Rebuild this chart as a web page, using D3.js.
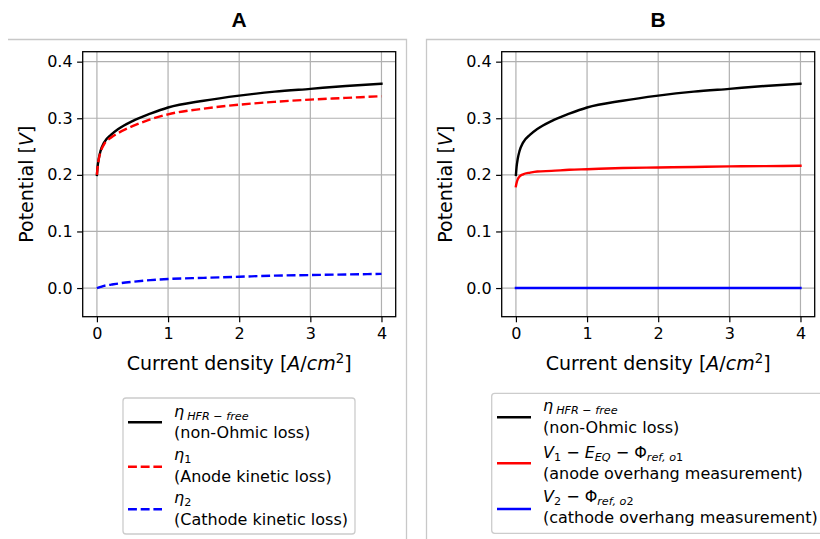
<!DOCTYPE html>
<html>
<head>
<meta charset="utf-8">
<script src="https://cdn.jsdelivr.net/npm/d3@7/dist/d3.min.js"></script>
<style>
  html, body { margin: 0; padding: 0; background: #fff; }
  svg { display: block; }
  text { font-family: "DejaVu Sans", sans-serif; fill: #000; }
</style>
</head>
<body>
<svg id="chart" width="820" height="539"></svg>
<script>
// Current density samples [A/cm^2]
const currentDensity = [0, 0.01, 0.025, 0.05, 0.1, 0.2, 0.3, 0.5, 0.75, 1, 1.5, 2, 2.5, 3, 3.5, 4];

// Potentials [V]
const etaHfrFree      = [0.200, 0.215, 0.228, 0.242, 0.257, 0.271, 0.281, 0.295, 0.308, 0.319, 0.331, 0.340, 0.347, 0.352, 0.357, 0.361];
const eta1            = [0.200, 0.214, 0.227, 0.240, 0.254, 0.266, 0.274, 0.286, 0.298, 0.307, 0.317, 0.324, 0.329, 0.333, 0.336, 0.339];
const eta2            = [0.000, 0.0005, 0.001, 0.002, 0.004, 0.006, 0.008, 0.011, 0.014, 0.016, 0.018, 0.020, 0.022, 0.023, 0.024, 0.025];
const anodeOverhang   = [0.180, 0.186, 0.192, 0.197, 0.201, 0.204, 0.206, 0.207, 0.209, 0.210, 0.212, 0.213, 0.214, 0.215, 0.2155, 0.216];
const cathodeOverhang = [0, 0, 0, 0, 0, 0, 0, 0, 0, 0, 0, 0, 0, 0, 0, 0];

const xTicks = [0, 1, 2, 3, 4];
const yTicks = [0.0, 0.1, 0.2, 0.3, 0.4];
const xDomain = [-0.2, 4.2];
const yDomain = [-0.0506, 0.4176];

const svg = d3.select("#chart");

// Panel frames (notebook output boxes)
const boxStroke = "#c8c8c8";
svg.append("path").attr("d", "M8,39.5 H406.5 V539").attr("fill", "none").attr("stroke", boxStroke).attr("stroke-width", 1.3);
svg.append("path").attr("d", "M820,39.5 H426.5 V539").attr("fill", "none").attr("stroke", boxStroke).attr("stroke-width", 1.3);

// Rich text helper: parts = [{s, it, sub}]
function richText(g, x, y, parts, size) {
  const t = g.append("text").attr("x", x).attr("y", y).style("font-size", size + "px");
  let shifted = false;
  parts.forEach(p => {
    const ts = t.append("tspan").text(p.s);
    if (p.it) ts.style("font-style", "italic");
    if (p.sub && !shifted) { ts.attr("dy", 3); shifted = true; }
    if (!p.sub && shifted) { ts.attr("dy", -3); shifted = false; }
    if (p.sub) ts.style("font-size", (size * 0.7) + "px");
    if (p.gap) ts.attr("dx", p.gap);
  });
  return t;
}

const panels = [
  {
    title: "A", dx: 0,
    series: [
      { y: etaHfrFree, color: "#000000", dash: null },
      { y: eta1, color: "#ff0000", dash: "8.9,3.8" },
      { y: eta2, color: "#0000ff", dash: "8.9,3.8" }
    ],
    legend: {
      box: [123, 398, 232, 136], hx: [128, 162], tx: 174,
      entries: [
        { color: "#000000", dash: null, hy: 422.3, lines: [
          { y: 417, parts: [{ s: "η", it: true }, { s: "HFR − free", it: true, sub: true, gap: 3 }] },
          { y: 438, parts: [{ s: "(non-Ohmic loss)" }] } ] },
        { color: "#ff0000", dash: "8.9,3.8", hy: 466.7, lines: [
          { y: 460, parts: [{ s: "η", it: true }, { s: "1", sub: true }] },
          { y: 482, parts: [{ s: "(Anode kinetic loss)" }] } ] },
        { color: "#0000ff", dash: "8.9,3.8", hy: 509.3, lines: [
          { y: 503, parts: [{ s: "η", it: true }, { s: "2", sub: true }] },
          { y: 524.5, parts: [{ s: "(Cathode kinetic loss)" }] } ] }
      ]
    }
  },
  {
    title: "B", dx: 419,
    series: [
      { y: etaHfrFree, color: "#000000", dash: null },
      { y: anodeOverhang, color: "#ff0000", dash: null },
      { y: cathodeOverhang, color: "#0000ff", dash: null }
    ],
    legend: {
      box: [491.7, 393.3, 340, 140], hx: [497, 531], tx: 543,
      entries: [
        { color: "#000000", dash: null, hy: 417.3, lines: [
          { y: 411, parts: [{ s: "η", it: true }, { s: "HFR − free", it: true, sub: true, gap: 3 }] },
          { y: 432.5, parts: [{ s: "(non-Ohmic loss)" }] } ] },
        { color: "#ff0000", dash: null, hy: 463.3, lines: [
          { y: 458, parts: [{ s: "V", it: true }, { s: "1", sub: true }, { s: " − " }, { s: "E", it: true },
                             { s: "EQ", it: true, sub: true }, { s: " − " }, { s: "Φ" }, { s: "ref, o", it: true, sub: true }, { s: "1", sub: true }] },
          { y: 479, parts: [{ s: "(anode overhang measurement)" }] } ] },
        { color: "#0000ff", dash: null, hy: 509, lines: [
          { y: 502, parts: [{ s: "V", it: true }, { s: "2", sub: true }, { s: " − " }, { s: "Φ" }, { s: "ref, o", it: true, sub: true }, { s: "2", sub: true }] },
          { y: 523, parts: [{ s: "(cathode overhang measurement)" }] } ] }
      ]
    }
  }
];

const frame = { left: 82.7, right: 395.7, top: 51.7, bottom: 316.7 };

panels.forEach(p => {
  const g = svg.append("g").attr("transform", `translate(${p.dx},0)`);
  const x = d3.scaleLinear().domain(xDomain).range([frame.left, frame.right]);
  const y = d3.scaleLinear().domain(yDomain).range([frame.bottom, frame.top]);

  // Title
  g.append("text").attr("x", 239).attr("y", 26.7).attr("text-anchor", "middle")
    .style("font-family", "'Liberation Sans', Arial, sans-serif").style("font-weight", "bold").style("font-size", "21px")
    .text(p.title);

  // Grid
  g.append("g").selectAll("line").data(xTicks).join("line")
    .attr("x1", d => x(d)).attr("x2", d => x(d)).attr("y1", frame.top).attr("y2", frame.bottom)
    .attr("stroke", "#b0b0b0").attr("stroke-width", 1.2);
  g.append("g").selectAll("line").data(yTicks).join("line")
    .attr("y1", d => y(d)).attr("y2", d => y(d)).attr("x1", frame.left).attr("x2", frame.right)
    .attr("stroke", "#b0b0b0").attr("stroke-width", 1.2);

  // Axes
  const xAxis = d3.axisBottom(x).tickValues(xTicks).tickFormat(d3.format("d")).tickSize(5.6).tickPadding(5.5);
  const yAxis = d3.axisLeft(y).tickValues(yTicks).tickFormat(d3.format(".1f")).tickSize(5.6).tickPadding(4.5);
  const gx = g.append("g").attr("transform", `translate(0,${frame.bottom})`).call(xAxis);
  const gy = g.append("g").attr("transform", `translate(${frame.left},0)`).call(yAxis);
  [gx, gy].forEach(a => {
    a.select(".domain").remove();
    a.selectAll(".tick line").attr("stroke", "#000").attr("stroke-width", 1.2);
    a.selectAll(".tick text").style("font-size", "16px").style("font-family", "'DejaVu Sans', sans-serif").attr("fill", "#000");
  });

  // Curves
  const line = d3.line().x(d => x(d[0])).y(d => y(d[1])).curve(d3.curveMonotoneX);
  p.series.forEach(s => {
    const pts = currentDensity.map((c, i) => [c, s.y[i]]);
    g.append("path").datum(pts).attr("d", line).attr("fill", "none")
      .attr("stroke", s.color).attr("stroke-width", 2.4)
      .attr("stroke-dasharray", s.dash).attr("stroke-linecap", s.dash ? "butt" : "square");
  });

  // Frame
  g.append("rect").attr("x", frame.left).attr("y", frame.top)
    .attr("width", frame.right - frame.left).attr("height", frame.bottom - frame.top)
    .attr("fill", "none").attr("stroke", "#000").attr("stroke-width", 1.3);

  // Axis labels
  const xl = g.append("text").attr("x", (frame.left + frame.right) / 2).attr("y", 370)
    .attr("text-anchor", "middle").style("font-size", "19px");
  xl.append("tspan").text("Current density [");
  xl.append("tspan").text("A").style("font-style", "italic");
  xl.append("tspan").text("/");
  xl.append("tspan").text("cm").style("font-style", "italic");
  xl.append("tspan").text("2").attr("dy", -7).style("font-size", "13.3px");
  xl.append("tspan").text("]").attr("dy", 7);

  const yl = g.append("text").attr("transform", `translate(33,${(frame.top + frame.bottom) / 2}) rotate(-90)`)
    .attr("text-anchor", "middle").style("font-size", "19px");
  yl.append("tspan").text("Potential [");
  yl.append("tspan").text("V").style("font-style", "italic");
  yl.append("tspan").text("]");

  // Legend (absolute coordinates)
  const L = p.legend;
  const lg = svg.append("g");
  lg.append("rect").attr("x", L.box[0]).attr("y", L.box[1]).attr("width", L.box[2]).attr("height", L.box[3])
    .attr("rx", 3).attr("fill", "#fff").attr("fill-opacity", 0.8).attr("stroke", "#cccccc").attr("stroke-width", 1.3);
  L.entries.forEach(e => {
    lg.append("line").attr("x1", L.hx[0]).attr("x2", L.hx[1]).attr("y1", e.hy).attr("y2", e.hy)
      .attr("stroke", e.color).attr("stroke-width", 2.4).attr("stroke-dasharray", e.dash);
    e.lines.forEach(ln => richText(lg, L.tx, ln.y, ln.parts, 16));
  });
});
</script>
</body>
</html>
